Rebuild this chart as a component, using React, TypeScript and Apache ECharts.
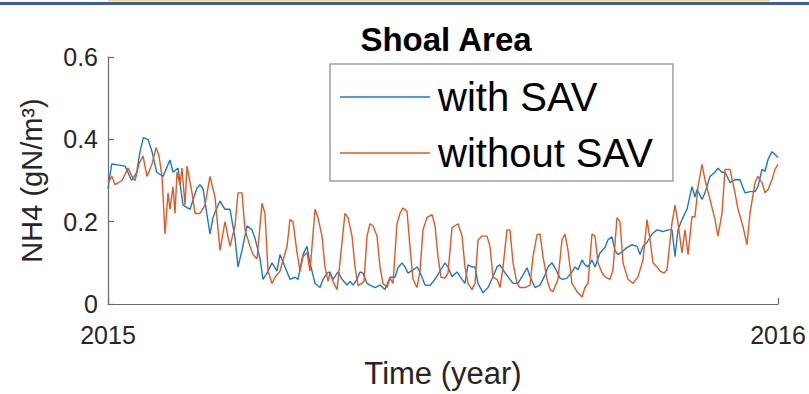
import React, { useEffect, useRef } from "react";
import * as echarts from "echarts";

// NH4 concentration in the shoal area over 2015, with and without SAV.
// Each point is [fraction of the year since 2015-01-01, NH4 in gN/m^3].
const withSAV: [number, number][] = [
  [0, 0.28], [0.0055, 0.34], [0.0149, 0.338], [0.0254, 0.335], [0.0354, 0.3], [0.0428, 0.32],
  [0.0478, 0.37], [0.0527, 0.404], [0.0597, 0.4], [0.0657, 0.37], [0.0727, 0.32], [0.0821, 0.31],
  [0.0925, 0.35], [0.097, 0.32], [0.1045, 0.33], [0.1119, 0.24], [0.1224, 0.23], [0.1324, 0.28],
  [0.1373, 0.29], [0.1418, 0.28], [0.1522, 0.17], [0.1567, 0.21], [0.1642, 0.24], [0.1672, 0.25],
  [0.1746, 0.23], [0.1821, 0.23], [0.1896, 0.16], [0.194, 0.09], [0.2, 0.13], [0.2075, 0.19],
  [0.2149, 0.18], [0.2194, 0.16], [0.2269, 0.11], [0.2313, 0.06], [0.2373, 0.075], [0.2448, 0.1],
  [0.2522, 0.08], [0.2567, 0.12], [0.2642, 0.09], [0.2716, 0.06], [0.2791, 0.065], [0.2836, 0.06],
  [0.291, 0.12], [0.297, 0.14], [0.3015, 0.1], [0.309, 0.05], [0.3164, 0.04], [0.3209, 0.06],
  [0.3269, 0.075], [0.3313, 0.078], [0.3358, 0.06], [0.3433, 0.078], [0.3493, 0.06], [0.3567, 0.046],
  [0.3612, 0.055], [0.3657, 0.046], [0.3716, 0.06], [0.3761, 0.078], [0.3806, 0.075], [0.3866, 0.05],
  [0.391, 0.046], [0.3985, 0.04], [0.406, 0.046], [0.4134, 0.035], [0.4209, 0.065], [0.4284, 0.065],
  [0.4328, 0.088], [0.4388, 0.1], [0.4433, 0.09], [0.4478, 0.075], [0.4552, 0.083], [0.4612, 0.09],
  [0.4657, 0.078], [0.4731, 0.046], [0.4806, 0.045], [0.4881, 0.06], [0.4955, 0.08], [0.503, 0.1],
  [0.5075, 0.09], [0.5134, 0.066], [0.5209, 0.078], [0.5284, 0.06], [0.5328, 0.05], [0.5373, 0.095],
  [0.5433, 0.09], [0.5478, 0.09], [0.5522, 0.05], [0.5597, 0.027], [0.5672, 0.04], [0.5746, 0.066],
  [0.5806, 0.09], [0.5851, 0.095], [0.5896, 0.083], [0.597, 0.066], [0.6045, 0.05], [0.6119, 0.05],
  [0.6194, 0.07], [0.6254, 0.088], [0.6299, 0.066], [0.6373, 0.04], [0.6448, 0.046], [0.6522, 0.07],
  [0.6567, 0.09], [0.6627, 0.1], [0.6672, 0.088], [0.6746, 0.063], [0.6791, 0.06], [0.6851, 0.063],
  [0.6925, 0.078], [0.697, 0.09], [0.7015, 0.083], [0.7075, 0.107], [0.7119, 0.095], [0.7164, 0.09],
  [0.7224, 0.107], [0.7269, 0.09], [0.7343, 0.124], [0.7418, 0.137], [0.7463, 0.156], [0.7522, 0.163],
  [0.7567, 0.13], [0.7612, 0.12], [0.7672, 0.127], [0.7746, 0.137], [0.7821, 0.144], [0.7896, 0.14],
  [0.794, 0.12], [0.7985, 0.14], [0.8045, 0.15], [0.8119, 0.17], [0.8194, 0.18], [0.8284, 0.176],
  [0.8358, 0.18], [0.8418, 0.18], [0.8463, 0.115], [0.8507, 0.18], [0.8567, 0.205], [0.8642, 0.23],
  [0.8716, 0.285], [0.8761, 0.26], [0.8791, 0.278], [0.8866, 0.254], [0.891, 0.27], [0.8985, 0.31],
  [0.906, 0.32], [0.9104, 0.33], [0.9164, 0.32], [0.9209, 0.32], [0.9284, 0.295], [0.9358, 0.302],
  [0.9433, 0.302], [0.9507, 0.27], [0.9582, 0.273], [0.9657, 0.273], [0.9701, 0.285], [0.9761, 0.327],
  [0.9806, 0.322], [0.9851, 0.351], [0.991, 0.37], [0.9955, 0.363], [1, 0.356],
];

const withoutSAV: [number, number][] = [
  [0, 0.295], [0.006, 0.31], [0.0104, 0.29], [0.0209, 0.3], [0.0299, 0.33], [0.0358, 0.31],
  [0.0403, 0.3], [0.0463, 0.34], [0.0522, 0.36], [0.0582, 0.31], [0.0657, 0.34], [0.0716, 0.38],
  [0.0761, 0.36], [0.0806, 0.31], [0.0851, 0.17], [0.0896, 0.27], [0.0925, 0.23], [0.097, 0.285],
  [0.1, 0.22], [0.103, 0.32], [0.1075, 0.29], [0.1104, 0.33], [0.1149, 0.24], [0.1179, 0.335],
  [0.1254, 0.27], [0.1299, 0.22], [0.1373, 0.22], [0.1448, 0.24], [0.1522, 0.31], [0.1597, 0.26],
  [0.1672, 0.13], [0.1746, 0.2], [0.1821, 0.14], [0.1896, 0.19], [0.194, 0.27], [0.2, 0.27],
  [0.2045, 0.18], [0.2119, 0.14], [0.2164, 0.12], [0.2224, 0.11], [0.2299, 0.245], [0.2343, 0.22],
  [0.2388, 0.08], [0.2448, 0.05], [0.2493, 0.065], [0.2567, 0.08], [0.2672, 0.14], [0.2716, 0.205],
  [0.2761, 0.2], [0.2821, 0.125], [0.2866, 0.08], [0.291, 0.115], [0.297, 0.125], [0.3015, 0.08],
  [0.309, 0.23], [0.3134, 0.21], [0.3194, 0.165], [0.3239, 0.09], [0.3284, 0.055], [0.3313, 0.075],
  [0.3358, 0.055], [0.3418, 0.035], [0.3448, 0.08], [0.3493, 0.15], [0.3537, 0.22], [0.3582, 0.21],
  [0.3642, 0.165], [0.3687, 0.09], [0.3731, 0.045], [0.3791, 0.05], [0.3821, 0.055], [0.3866, 0.165],
  [0.391, 0.195], [0.3955, 0.19], [0.4015, 0.165], [0.406, 0.09], [0.4104, 0.05], [0.4164, 0.04],
  [0.4209, 0.063], [0.4254, 0.05], [0.4313, 0.195], [0.4358, 0.22], [0.4403, 0.233], [0.4463, 0.225],
  [0.4507, 0.14], [0.4552, 0.06], [0.4612, 0.04], [0.4657, 0.08], [0.4701, 0.18], [0.4761, 0.21],
  [0.4836, 0.217], [0.4881, 0.19], [0.4925, 0.115], [0.497, 0.065], [0.503, 0.063], [0.5075, 0.075],
  [0.5134, 0.185], [0.5179, 0.19], [0.5224, 0.195], [0.5284, 0.165], [0.5328, 0.09], [0.5373, 0.05],
  [0.5433, 0.035], [0.5478, 0.05], [0.5522, 0.155], [0.5582, 0.165], [0.5657, 0.165], [0.5701, 0.14],
  [0.5746, 0.065], [0.5806, 0.06], [0.5851, 0.04], [0.5896, 0.09], [0.5955, 0.18], [0.6, 0.18],
  [0.6045, 0.1], [0.6104, 0.05], [0.6149, 0.04], [0.6224, 0.04], [0.6299, 0.046], [0.6343, 0.115],
  [0.6403, 0.168], [0.6448, 0.17], [0.6493, 0.115], [0.6552, 0.06], [0.6597, 0.035], [0.6642, 0.03],
  [0.6716, 0.06], [0.6776, 0.156], [0.6821, 0.17], [0.6866, 0.13], [0.6925, 0.05], [0.7, 0.03],
  [0.7075, 0.017], [0.7119, 0.04], [0.7164, 0.05], [0.7224, 0.17], [0.7269, 0.165], [0.7313, 0.1],
  [0.7373, 0.076], [0.7418, 0.066], [0.7493, 0.06], [0.7537, 0.083], [0.7597, 0.21], [0.7642, 0.2],
  [0.7687, 0.1], [0.7761, 0.06], [0.7836, 0.05], [0.791, 0.066], [0.7985, 0.107], [0.8045, 0.205],
  [0.809, 0.156], [0.8134, 0.1], [0.8194, 0.09], [0.8239, 0.08], [0.8299, 0.075], [0.8343, 0.083],
  [0.8418, 0.197], [0.8463, 0.24], [0.8507, 0.197], [0.8567, 0.124], [0.8612, 0.18], [0.8657, 0.12],
  [0.8716, 0.212], [0.8761, 0.212], [0.8806, 0.285], [0.8866, 0.339], [0.891, 0.302], [0.8985, 0.254],
  [0.906, 0.205], [0.9104, 0.165], [0.9164, 0.22], [0.9209, 0.327], [0.9284, 0.327], [0.9358, 0.27],
  [0.9403, 0.23], [0.9478, 0.188], [0.9537, 0.144], [0.9582, 0.22], [0.9657, 0.295], [0.9701, 0.31],
  [0.9761, 0.295], [0.9806, 0.27], [0.9851, 0.278], [0.991, 0.302], [0.9955, 0.327], [1, 0.339],
];

const seriesNames = ["with SAV", "without SAV"];
const xTickLabels = ["2015", "2016"];
const yTickLabels = ["0", "0.2", "0.4", "0.6"];

const FONT = "'Liberation Sans', Arial, Helvetica, sans-serif";
const TEXT = "#262626";
const AXIS = "#6a6a6a";

export default function App() {
  const ref = useRef<HTMLDivElement>(null);

  useEffect(() => {
    if (!ref.current) return;
    const chart = echarts.init(ref.current, null, { renderer: "svg" });
    chart.setOption({
      animation: false,
      backgroundColor: "#ffffff",
      textStyle: { fontFamily: FONT },
      graphic: [
        { type: "rect", left: 0, top: 2, shape: { width: 809, height: 3 }, style: { fill: "#3e5e9a" }, silent: true },
        { type: "rect", left: 108, top: 0, shape: { width: 662, height: 1.5 }, style: { fill: "#f6da88" }, silent: true },
      ],
      title: {
        text: "Shoal Area",
        left: 441,
        top: 18,
        textAlign: "center",
        textStyle: { fontFamily: FONT, fontSize: 33, fontWeight: "bold", color: "#000" },
      },
      legend: {
        data: seriesNames,
        left: 330,
        top: 64,
        orient: "vertical",
        icon: "rect",
        itemWidth: 90,
        itemHeight: 1.5,
        itemGap: 12,
        padding: [11, 20, 6, 10],
        borderColor: "#a0a0a0",
        borderWidth: 1.5,
        backgroundColor: "#ffffff",
        textStyle: { fontFamily: FONT, fontSize: 40, lineHeight: 44, color: "#000", padding: [0, 0, 0, 3] },
      },
      grid: { left: 108, right: 31, top: 57, bottom: 90 },
      xAxis: {
        type: "value",
        min: 0,
        max: 1,
        interval: 1,
        name: "Time (year)",
        nameLocation: "middle",
        nameGap: 54,
        nameTextStyle: { fontFamily: FONT, fontSize: 31, color: TEXT },
        axisLine: { lineStyle: { color: AXIS, width: 1.2 } },
        axisTick: { inside: true, length: 6, lineStyle: { color: AXIS, width: 1.2 } },
        axisLabel: {
          margin: 18,
          fontFamily: FONT,
          fontSize: 25,
          color: TEXT,
          formatter: (v: number) => xTickLabels[Math.round(v)] ?? "",
        },
        splitLine: { show: false },
      },
      yAxis: {
        type: "value",
        min: 0,
        max: 0.6,
        interval: 0.2,
        name: "NH4 (gN/m³)",
        nameLocation: "middle",
        nameGap: 62,
        nameRotate: 90,
        nameTextStyle: { fontFamily: FONT, fontSize: 29, color: TEXT },
        axisLine: { show: true, lineStyle: { color: AXIS, width: 1.2 } },
        axisTick: { show: true, inside: true, length: 6, lineStyle: { color: AXIS, width: 1.2 } },
        axisLabel: {
          margin: 10,
          fontFamily: FONT,
          fontSize: 25,
          color: TEXT,
          formatter: (v: number) => yTickLabels[Math.round(v / 0.2)] ?? "",
        },
        splitLine: { show: false },
      },
      series: [
        {
          name: seriesNames[0],
          type: "line",
          data: withSAV,
          showSymbol: false,
          symbol: "none",
          color: "#1a78c8",
          lineStyle: { color: "#1a78c8", width: 1.4 },
        },
        {
          name: seriesNames[1],
          type: "line",
          data: withoutSAV,
          showSymbol: false,
          symbol: "none",
          color: "#dc5a25",
          lineStyle: { color: "#dc5a25", width: 1.4 },
        },
      ],
    });
    return () => chart.dispose();
  }, []);

  return (
    <div
      ref={ref}
      style={{ position: "fixed", left: 0, top: 0, width: 809, height: 394, background: "#fff" }}
    />
  );
}
